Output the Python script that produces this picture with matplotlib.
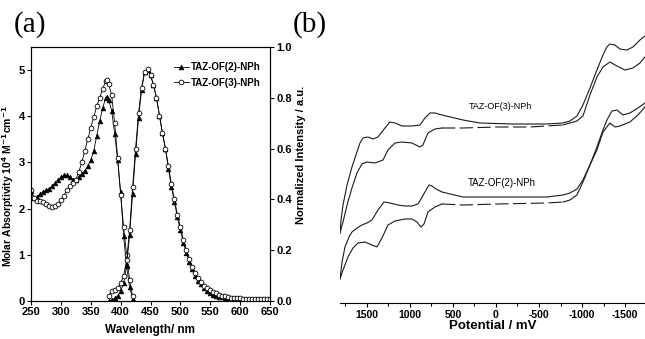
import matplotlib
matplotlib.use("Agg")
import matplotlib.pyplot as plt
from matplotlib.ticker import MultipleLocator, FixedLocator

# ---- (a) absorption / emission ----
abs_wl = [250, 255, 260, 265, 270, 275, 280, 285, 290, 295, 300, 305, 310, 315,
          320, 325, 330, 335, 340, 345, 350, 355, 360, 365, 370, 375, 378, 380,
          385, 390, 395, 400, 405, 410, 415, 420]
abs_of2 = [2.38, 2.22, 2.25, 2.32, 2.36, 2.40, 2.43, 2.48, 2.55, 2.62, 2.68, 2.72,
           2.72, 2.68, 2.62, 2.62, 2.68, 2.75, 2.82, 2.92, 3.05, 3.25, 3.58, 3.90,
           4.18, 4.40, 4.42, 4.35, 4.12, 3.62, 3.05, 2.35, 1.40, 0.75, 0.30, 0.05]
abs_of3 = [2.40, 2.22, 2.17, 2.17, 2.15, 2.10, 2.05, 2.03, 2.05, 2.10, 2.18, 2.28,
           2.40, 2.48, 2.55, 2.62, 2.80, 3.00, 3.25, 3.50, 3.75, 3.98, 4.22, 4.40,
           4.60, 4.76, 4.78, 4.70, 4.45, 3.85, 3.10, 2.30, 1.60, 1.00, 0.45, 0.10]

em_wl = [380, 385, 390, 395, 400, 405, 410, 415, 420, 425, 430, 435, 440, 445,
         450, 455, 460, 465, 470, 475, 480, 485, 490, 495, 500, 505, 510, 515,
         520, 525, 530, 535, 540, 545, 550, 555, 560, 565, 570, 575, 580, 585,
         590, 595, 600, 605, 610, 615, 620, 625, 630, 635, 640, 645, 650]
em_of2 = [0.0, 0.005, 0.01, 0.02, 0.04, 0.07, 0.14, 0.26, 0.42, 0.58, 0.72, 0.83,
          0.90, 0.91, 0.89, 0.85, 0.80, 0.73, 0.66, 0.60, 0.52, 0.45, 0.39, 0.33,
          0.28, 0.23, 0.19, 0.155, 0.125, 0.10, 0.08, 0.065, 0.05, 0.04, 0.032,
          0.025, 0.02, 0.017, 0.014, 0.012, 0.01, 0.008, 0.007, 0.006, 0.005,
          0.004, 0.004, 0.003, 0.003, 0.002, 0.002, 0.002, 0.002, 0.001, 0.001]
em_of3 = [0.02, 0.04, 0.045, 0.05, 0.07, 0.10, 0.16, 0.28, 0.45, 0.60, 0.74, 0.84,
          0.90, 0.915, 0.89, 0.85, 0.80, 0.73, 0.66, 0.60, 0.53, 0.46, 0.40, 0.34,
          0.29, 0.24, 0.20, 0.165, 0.135, 0.11, 0.09, 0.075, 0.06, 0.05, 0.042,
          0.035, 0.03, 0.025, 0.021, 0.018, 0.015, 0.013, 0.012, 0.011, 0.01,
          0.009, 0.009, 0.008, 0.008, 0.007, 0.007, 0.007, 0.006, 0.006, 0.006]

# ---- (b) cyclic voltammetry (potential mV, current arb. units) ----
of3_up_v = [1810, 1798, 1775, 1728, 1671, 1613, 1578, 1543, 1485, 1427, 1369, 1288,
            1230, 1172, 1091, 975, 882, 824, 766, 708, 627, 383, 186, -197, -592,
            -778, -859, -940, -1010, -1091, -1172, -1242, -1288, -1323, -1381,
            -1439, -1520, -1590, -1671, -1729]
of3_up_i = [67, 80, 95, 115, 133, 148, 157, 162, 163, 161, 163, 172, 178, 177, 174,
            174, 175, 182, 187, 187, 185, 180, 177, 176, 176, 177, 179, 184, 195,
            212, 230, 245, 253, 256, 255, 251, 250, 253, 260, 264]
of3_lo_v = [1810, 1775, 1728, 1671, 1613, 1555, 1497, 1404, 1311, 1253, 1172, 1091,
            975, 882, 847, 789, 708, 627, 383, -12, -394, -778, -940, -1010, -1091,
            -1172, -1242, -1323, -1404, -1497, -1590, -1671, -1729]
of3_lo_i = [67, 78, 95, 112, 127, 136, 138, 137, 140, 150, 157, 158, 157, 153, 155,
            167, 171, 172, 172, 173, 173, 175, 179, 184, 205, 223, 233, 238, 234,
            230, 232, 237, 243]

of2_up_v = [1810, 1786, 1752, 1705, 1671, 1613, 1555, 1497, 1439, 1369, 1299, 1230,
            1137, 1056, 975, 905, 870, 824, 777, 742, 696, 627, 383, -12, -592,
            -778, -859, -940, -1010, -1091, -1172, -1242, -1288, -1346, -1404,
            -1474, -1555, -1648, -1729]
of2_up_i = [21, 38, 53, 63, 68, 72, 75, 77, 80, 90, 98, 97, 95, 94, 94, 96, 101,
            108, 115, 114, 111, 108, 103, 103, 103, 105, 107, 111, 120, 135, 153,
            170, 180, 189, 190, 185, 187, 192, 197]
of2_lo_v = [1810, 1775, 1717, 1659, 1601, 1520, 1439, 1381, 1323, 1253, 1172, 1056,
            975, 917, 870, 835, 789, 708, 627, 383, -12, -592, -778, -859, -940,
            -1010, -1091, -1172, -1242, -1323, -1381, -1439, -1555, -1648, -1729]
of2_lo_i = [21, 30, 43, 52, 57, 58, 55, 53, 62, 75, 79, 81, 81, 78, 73, 76, 88, 93,
            96, 95, 96, 97, 98, 100, 105, 118, 135, 150, 168, 177, 173, 174, 178,
            185, 193]

cv_ticks = [1500, 1000, 500, 0, -500, -1000, -1500]

sans = ["Liberation Sans", "DejaVu Sans"]
serif = ["Liberation Serif", "DejaVu Serif"]

fig = plt.figure(figsize=(6.45, 3.39), dpi=100)

# ---------- panel (a) ----------
ax1 = fig.add_axes([0.0481, 0.1121, 0.3705, 0.7493])
ax1.plot(abs_wl, abs_of2, "-", color="black", lw=0.6, marker="^", ms=3.4,
         mfc="black", mec="black", mew=0.5, label="TAZ-OF(2)-NPh")
ax1.plot(abs_wl, abs_of3, "-", color="black", lw=0.6, marker="o", ms=3.4,
         mfc="white", mec="black", mew=0.6, label="TAZ-OF(3)-NPh")
ax1.set_xlim(250, 650)
ax1.set_ylim(0, 5.5)
ax1.xaxis.set_major_locator(MultipleLocator(50))
ax1.yaxis.set_major_locator(MultipleLocator(1))
ax1.tick_params(direction="out", length=3, width=0.8, pad=1.5)

ax2 = ax1.twinx()
ax2.plot(em_wl, em_of2, "-", color="black", lw=0.6, marker="^", ms=3.4,
         mfc="black", mec="black", mew=0.5)
ax2.plot(em_wl, em_of3, "-", color="black", lw=0.6, marker="o", ms=3.4,
         mfc="white", mec="black", mew=0.6)
ax2.set_ylim(0, 1.0)
ax2.tick_params(direction="out", length=3, width=0.8, pad=1.5)
ax2.set_yticks([0, 0.2, 0.4, 0.6, 0.8, 1.0])
ax2.set_yticklabels(["0.0", "0.2", "0.4", "0.6", "0.8", "1.0"])

for lab in ax1.get_xticklabels() + ax1.get_yticklabels() + ax2.get_yticklabels():
    lab.set_family(sans)
    lab.set_fontweight("bold")
    lab.set_fontsize(8)

ax1.set_xlabel("Wavelength/ nm", family=sans, fontweight="bold", fontsize=8.5)
ax1.xaxis.set_label_coords(0.498, -0.09)
ax1.set_ylabel("Molar Absorptivity 10$^{\\mathbf{4}}$ M$^{\\mathbf{-1}}$cm$^{\\mathbf{-1}}$",
               family=sans, fontweight="bold", fontsize=7.5)
ax1.yaxis.set_label_coords(-0.062, 0.453)
ax2.set_ylabel("Normalized Intensity / a.u.", family=sans, fontweight="bold",
               fontsize=8)
ax2.yaxis.set_label_coords(1.11, 0.575)

leg = ax1.legend(loc="upper left", bbox_to_anchor=(0.58, 0.955), frameon=False,
                 handlelength=1.6, handletextpad=0.2, labelspacing=0.55,
                 borderaxespad=0, prop={"family": sans, "weight": "bold",
                                        "size": 7})

fig.text(0.046, 0.929, "(a)", family=serif, fontsize=21, ha="center",
         va="center")
fig.text(0.48, 0.929, "(b)", family=serif, fontsize=21, ha="center",
         va="center")

# ---------- panel (b) ----------
ax3 = fig.add_axes([0.5271, 0.1071, 0.4729, 0.8044])
line_kw = dict(color="#1a1a1a", lw=0.8)


def plot_lower(ax, v, i):
    solid_l = [k for k, x in enumerate(v) if x >= 627]
    mid = [k for k, x in enumerate(v) if -778 <= x <= 627]
    solid_r = [k for k, x in enumerate(v) if x <= -778]
    ax.plot([v[k] for k in solid_l], [i[k] for k in solid_l], **line_kw)
    ax.plot([v[k] for k in mid], [i[k] for k in mid], ls=(0, (12, 4)), **line_kw)
    ax.plot([v[k] for k in solid_r], [i[k] for k in solid_r], **line_kw)


ax3.plot(of3_up_v, of3_up_i, **line_kw)
plot_lower(ax3, of3_lo_v, of3_lo_i)
ax3.plot(of2_up_v, of2_up_i, **line_kw)
plot_lower(ax3, of2_lo_v, of2_lo_i)

ax3.text(-50, 193, "TAZ-OF(3)-NPh", family=sans, fontsize=6.5, ha="center",
         va="center")
ax3.text(-70, 117, "TAZ-OF(2)-NPh", family=sans, fontsize=7, ha="center",
         va="center")

ax3.set_xlim(1810, -1730)
ax3.set_ylim(-2.7, 270)
for s in ["left", "right", "top"]:
    ax3.spines[s].set_visible(False)
ax3.set_yticks([])
ax3.xaxis.set_major_locator(FixedLocator(cv_ticks))
ax3.xaxis.set_minor_locator(MultipleLocator(250))
ax3.set_xticklabels([str(t) for t in cv_ticks], family=sans, fontweight="bold",
                    fontsize=7.5)
ax3.tick_params(axis="x", which="major", direction="out", length=3, width=0.8,
                pad=2)
ax3.tick_params(axis="x", which="minor", direction="out", length=2, width=0.8)
ax3.set_xlabel("Potential / mV", family=sans, fontweight="bold", fontsize=9.5)
ax3.xaxis.set_label_coords(0.5, -0.065)

fig.savefig("out.png", dpi=100, facecolor="white")
